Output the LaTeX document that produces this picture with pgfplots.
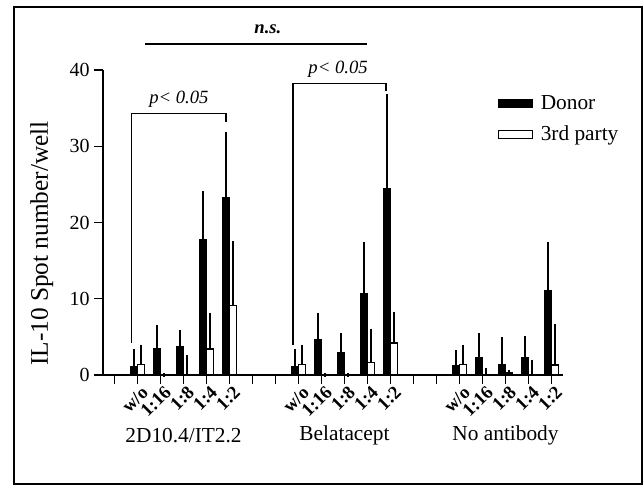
\documentclass[border=0pt]{standalone}
\usepackage{pgfplots}
\pgfplotsset{compat=1.18}
\usepackage{pgfplotstable}
\usepackage{fontspec}
\setmainfont{Liberation Serif}

\pgfplotstableread{
x y e
2 1.1 2.0
3 3.4 2.9
4 3.7 1.9
5 17.8 6.1
6 23.3 8.3
9 1.1 2.0
10 4.7 3.2
11 3.0 2.2
12 10.7 6.4
13 24.4 12.2
16 1.2 1.8
17 2.3 2.9
18 1.3 3.4
19 2.3 2.6
20 11.1 6.1
}\donor

\pgfplotstableread{
x y e
2 1.4 2.3
3 0 0
4 0 2.3
5 3.4 4.5
6 9.1 8.2
9 1.4 2.3
10 0 0
11 0 0
12 1.6 4.2
13 4.2 3.8
16 1.4 2.3
17 0.1 0.55
18 0.25 0.1
19 0 1.7
20 1.3 5.1
}\third

\begin{document}
\begin{tikzpicture}
\path[use as bounding box] (0,0) rectangle (482.25pt,-363.75pt);
\draw[line width=1.5pt] (10.5pt,-5.25pt) rectangle (481.2pt,-362.7pt);
\begin{axis}[
  at={(77.25pt,-281.25pt)}, anchor=south west,
  scale only axis, width=345pt, height=228.75pt,
  xmin=0.5, xmax=20.5, ymin=0, ymax=40,
  axis x line*=bottom, axis y line*=left,
  axis line style={line width=1pt},
  ytick={0,10,20,30,40},
  xtick={1,...,20},
  xticklabels={,w/o,1:16,1:8,1:4,1:2,,,w/o,1:16,1:8,1:4,1:2,,,w/o,1:16,1:8,1:4,1:2},
  xticklabel style={rotate=45, anchor=east, inner sep=0pt, yshift=-7pt, xshift=1pt,
    font=\fontsize{14}{16}\selectfont\bfseries},
  yticklabel style={font=\fontsize{15}{17}\selectfont},
  /pgf/number format/assume math mode=true,
  tick align=outside, major tick length=6.5pt,
  tick style={line width=1pt, black},
  ybar, bar width=0.3,
  clip=false,
  legend style={at={(rel axis cs:0.85,0.935)}, anchor=north west, draw=none, fill=none,
    font=\fontsize{16}{18}\selectfont, row sep=7pt},
  legend cell align=left,
  legend image code/.code={\draw[#1, line width=0.9pt] (0pt,-3pt) rectangle (25pt,3pt); \path (29pt,0pt);},
]
\addplot[fill=black, draw=black, line width=0.9pt, bar shift=-0.15,
  error bars/.cd, y dir=plus, y explicit,
  error bar style={line width=0.9pt, black},
  error mark options={line width=1.2pt, mark size=1.6pt, black}]
  table[x=x, y=y, y error=e]{\donor};
\addlegendentry{Donor}
\addplot[fill=white, draw=black, line width=0.9pt, bar shift=0.15,
  error bars/.cd, y dir=plus, y explicit,
  error bar style={line width=0.9pt, black},
  error mark options={line width=1.2pt, mark size=1.6pt, black}]
  table[x=x, y=y, y error=e]{\third};
\addlegendentry{3rd party}

\draw[line width=1.1pt] (axis cs:1.75,4.2) |- (axis cs:5.85,34.3) -- (axis cs:5.85,33.2);
\node[font=\itshape\fontsize{14}{16}\selectfont] at (axis cs:3.8,36.2) {p< 0.05};
\draw[line width=1.1pt] (axis cs:8.77,3.9) |- (axis cs:12.8,38.2) -- (axis cs:12.8,37.3);
\node[font=\itshape\fontsize{14}{16}\selectfont] at (axis cs:10.72,40.1) {p< 0.05};
\draw[line width=1.5pt] (axis cs:2.33,43.4) -- (axis cs:11.97,43.4);
\node[font=\bfseries\itshape\fontsize{14}{16}\selectfont] at (axis cs:7.67,45.4) {n.s.};

\node[font=\fontsize{16}{18}\selectfont] at (axis cs:4,-7.9) {2D10.4/IT2.2};
\node[font=\fontsize{16}{18}\selectfont] at (axis cs:11,-7.9) {Belatacept};
\node[font=\fontsize{16}{18}\selectfont] at (axis cs:18,-7.9) {No antibody};
\end{axis}
\node[rotate=90, font=\fontsize{19}{21}\selectfont] at (31.3pt,-182.6pt) {IL-10 Spot number/well};
\end{tikzpicture}
\end{document}
